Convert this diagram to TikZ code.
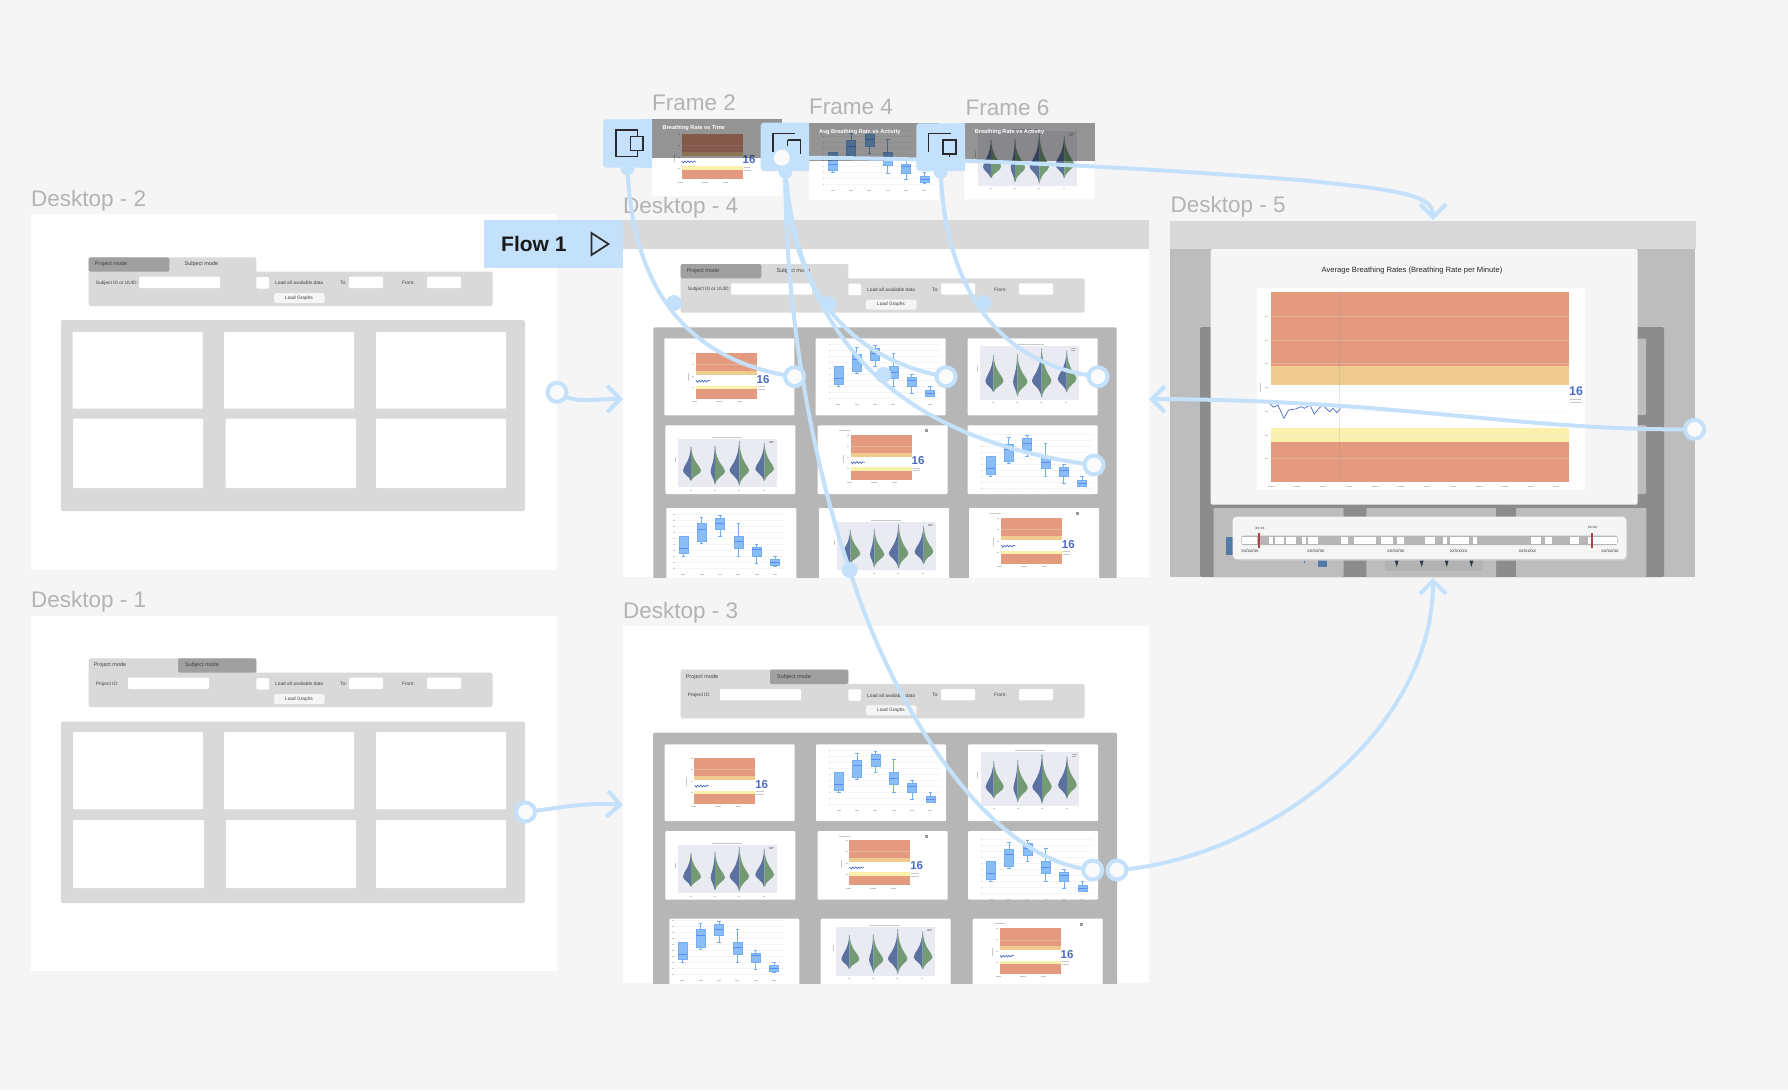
\documentclass[tikz,border=0pt]{standalone}
\usepackage{fontspec}
\setmainfont{Liberation Sans}
\usetikzlibrary{arrows.meta}
\definecolor{bgC}{HTML}{F5F5F5}
\definecolor{grC}{HTML}{D9D9D9}
\definecolor{panelC}{HTML}{B6B6B6}
\definecolor{tabC}{HTML}{A0A0A0}
\definecolor{linkC}{HTML}{C4E1FB}
\definecolor{orangeC}{HTML}{E39A7E}
\definecolor{amberC}{HTML}{F0CB90}
\definecolor{yellowC}{HTML}{FBF1AC}
\definecolor{waveC}{HTML}{4A6CC0}
\definecolor{boxC}{HTML}{8ABDF5}
\definecolor{boxlC}{HTML}{74AEF2}
\definecolor{vbgC}{HTML}{EAEAF2}
\definecolor{vblueC}{HTML}{5B72A0}
\definecolor{vgreenC}{HTML}{739A74}
\definecolor{lblC}{HTML}{B3B3B3}
\definecolor{inkC}{HTML}{2A2A2A}
\definecolor{redmC}{HTML}{B04444}
\tikzset{
  lbl/.style={anchor=west,inner sep=0pt,text=lblC,font=\fontsize{22.5}{26}\selectfont},
  tiny/.style={inner sep=0pt,text=black!75,font=\fontsize{4.8}{6}\selectfont},
  tabt/.style={inner sep=0pt,text=black!75,font=\fontsize{5.5}{6}\selectfont},
  card/.style={fill=white,rounded corners=1pt},
  input/.style={fill=white,rounded corners=1.2pt},
  link/.style={draw=linkC,line width=4pt},
  hook/.style={-{Straight Barb[length=13pt,width=26pt,line width=4pt]}},
  ring/.style={circle,draw=linkC,line width=4pt,fill=white!98!black,minimum size=19pt,inner sep=0pt},
  dot/.style={circle,fill=linkC,minimum size=16pt,inner sep=0pt},
  icon/.style={fill=linkC,rounded corners=3pt},
  glyph/.style={draw=inkC,line width=1.5pt},
  tick/.style={fill=black!22},
  ftitle/.style={inner sep=0pt,anchor=west,text=white,font=\bfseries\fontsize{5.6}{6}\selectfont},
}
% search / control bar: #1 #2 = offset, #3 = project or subject mode
\newcommand{\topBar}[3]{%
\begin{scope}[shift={(#1,#2)},name prefix=#3-]
 \fill[grC,rounded corners=2pt] (88.6,257.3) rectangle (256.4,280);
 \fill[grC,rounded corners=2pt] (88.6,271.7) rectangle (492.5,306);
 \ifnum#3=1
  \fill[tabC,rounded corners=1.5pt] (88.6,257.3) rectangle (169.3,271.7);
  \node[tabt] (pm) at (111,264.3) {Project mode};
  \node[tabt] (sm) at (201.4,264.3) {Subject mode};
  \node[tiny,anchor=west] (id) at (95.7,283) {Subject ID or UUID:};
  \fill[input] (139,276.7) rectangle (220,288);
 \else
  \fill[tabC,rounded corners=1.5pt] (178,257.3) rectangle (256.4,271.7);
  \node[tabt] (pm) at (110,264.3) {Project mode};
  \node[tabt] (sm) at (202,264.3) {Subject mode};
  \node[tiny,anchor=west] (id) at (95.7,283) {Project ID:};
  \fill[input] (128,276.7) rectangle (209,288);
 \fi
 \fill[input] (256.4,277) rectangle (269,288.5);
 \node[tiny,anchor=west] (la) at (275,283) {Load all available data};
 \node[tiny,anchor=west] (to) at (340,283) {To:};
 \fill[input] (349,276.7) rectangle (383,288);
 \node[tiny,anchor=west] (fr) at (402,283) {From:};
 \fill[input] (427,276.7) rectangle (461,288);
 \fill[bgC,rounded corners=1.5pt] (274,293) rectangle (324.6,303);
 \node[tiny] (lg) at (299,298) {Load Graphs};
\end{scope}}
\newcommand{\gaugeChart}[2]{%
\begin{scope}[shift={(#1,#2)}]
 \fill[orangeC] (29.7,14) rectangle (90.7,31.7);
 \fill[amberC] (29.7,31.7) rectangle (90.7,36);
 \fill[yellowC] (29.7,46.3) rectangle (90.7,49.7);
 \fill[orangeC] (29.7,49.7) rectangle (90.7,59.3);
 \draw[white,opacity=.25,line width=.4pt] (29.7,25.3) -- (90.7,25.3);
 \draw[waveC,line width=.7pt] (30,41) -- (31.5,43) -- (33,41) -- (34.5,42.5) -- (36,40.8) -- (37.5,42.7) -- (39,41) -- (40.5,42.5) -- (42,41) -- (44,41.5);
 \node[inner sep=0pt,text=waveC,font=\bfseries\fontsize{11.5}{12}\selectfont] at (97,40) {16};
 \fill[tick] (91.5,47) rectangle (99,47.6);
 \fill[tick] (91.5,49.5) rectangle (99,50.1);
 \fill[tick] (26,61.6) rectangle (31,62.2);
 \fill[tick] (50,61.6) rectangle (56,62.2);
 \fill[tick] (71,61.6) rectangle (76,62.2);
 \fill[tick] (26,14) rectangle (28,14.5);
 \fill[tick] (26,25) rectangle (28,25.5);
 \fill[tick] (26,36.5) rectangle (28,37);
 \fill[tick] (26,47.5) rectangle (28,48);
 \fill[tick] (21.5,34) rectangle (22.1,42);
\end{scope}}
\newcommand{\gaugeHead}[2]{%
\begin{scope}[shift={(#1,#2)}]
 \fill[tick] (21,4.5) rectangle (32,5.3);
 \fill[black!40] (107,4) rectangle (110,7);
\end{scope}}
% cx, whisker top, box top, median, box bottom, whisker bottom
\newcommand{\oneBox}[6]{%
 \draw[boxlC,line width=.5pt] (#1,#2) -- (#1,#6) (#1-1.8,#2) -- (#1+1.8,#2) (#1-1.8,#6) -- (#1+1.8,#6);
 \fill[boxC] (#1-4.5,#3) rectangle (#1+4.5,#5);
 \draw[boxlC,line width=.5pt] (#1-4.5,#3) rectangle (#1+4.5,#5);
 \draw[boxlC!80!blue,line width=.6pt] (#1-4.5,#4) -- (#1+4.5,#4);
 \fill[tick] (#1-2,65.5) rectangle (#1+2,66);}
\newcommand{\boxChart}[2]{%
\begin{scope}[shift={(#1,#2)}]
 \foreach \gy in {6,12,...,60} {
  \draw[black!4,line width=.3pt] (15,\gy) -- (124,\gy);
  \fill[tick] (12.8,\gy-.2) rectangle (14,\gy+.2);}
 \oneBox{22.7}{28}{28}{40}{45.7}{48}
 \oneBox{41}{9}{15.7}{21.3}{33}{35}
 \oneBox{59.3}{7}{10}{15}{21.7}{28.3}
 \oneBox{77.7}{15}{28}{33.7}{40.3}{48.3}
 \oneBox{96}{36}{39.3}{41.7}{48.3}{55}
 \oneBox{114.3}{48}{51.7}{54.7}{57.7}{58.3}
\end{scope}}
% cx peak wide base blue-half green-half
\newcommand{\oneViolin}[6]{%
 \fill[vblueC] (#1-.3,#2) .. controls (#1-.5,#3-10) and (#1-#5,#3-5) .. (#1-#5,#3) .. controls (#1-#5,#3+4) and (#1-1.6,#3+6) .. (#1-.3,#4) -- (#1,#4) -- (#1,#2) -- cycle;
 \fill[vgreenC] (#1+.3,#2) .. controls (#1+.5,#3-10) and (#1+#6,#3-5) .. (#1+#6,#3) .. controls (#1+#6,#3+4) and (#1+1.6,#3+6) .. (#1+.3,#4) -- (#1,#4) -- (#1,#2) -- cycle;}
\newcommand{\violinChart}[3]{%
\begin{scope}[shift={(#1+12.7,#2+7.7)},yscale=#3]
 \fill[vbgC] (0,0) rectangle (98.5,53.6);
 \oneViolin{13}{9}{35}{46}{8}{10}
 \oneViolin{37}{8}{36}{50}{4.3}{10}
 \oneViolin{61.3}{2.3}{35}{51.3}{9.7}{9.7}
 \oneViolin{86.3}{4.7}{33}{46.3}{9}{9.7}
 \fill[black!30] (91,2) rectangle (96,3);
 \fill[black!30] (91,3.7) rectangle (95,4.3);
 \fill[tick] (34,-2) rectangle (64,-1.5);
 \fill[tick] (12,56) rectangle (14,56.5);
 \fill[tick] (36,56) rectangle (38,56.5);
 \fill[tick] (60,56) rectangle (62,56.5);
 \fill[tick] (85,56) rectangle (87,56.5);
 \fill[tick] (-3.5,20) rectangle (-3,26);
\end{scope}}
\newcommand{\cardAt}[3]{\fill[card] (#1,#2) rectangle (#1+130,#2+#3);}
\begin{document}
\begin{tikzpicture}[x=1pt,y=-1pt]
\useasboundingbox (0,0) rectangle (1788,1090);
\fill[bgC] (0,0) rectangle (1788,1090);

% ---- labels
\node[lbl] (l2) at (31,200.5) {Desktop - 2};
\node[lbl] (l1) at (31,601.5) {Desktop - 1};
\node[lbl] (l4) at (623,207.5) {Desktop - 4};
\node[lbl] (l3) at (623,613) {Desktop - 3};
\node[lbl] (l5) at (1170.5,207) {Desktop - 5};
\node[lbl] (lf2) at (652,103) {Frame 2};
\node[lbl] (lf4) at (809,107) {Frame 4};
\node[lbl] (lf6) at (965.5,107.5) {Frame 6};

% ---- Desktop 2
\fill[white] (31,214) rectangle (557,570);
\topBar{0}{0}{1}
\fill[grC,rounded corners=2pt] (61,320) rectangle (525,511);
\fill[card] (72.5,332) rectangle (202.5,408.7);
\fill[card] (224,332) rectangle (354,408.7);
\fill[card] (376,332) rectangle (506,408.7);
\fill[card] (73,418.7) rectangle (203,488);
\fill[card] (225.7,418.7) rectangle (356,488);
\fill[card] (376,418.7) rectangle (506,488);

% ---- Desktop 1
\fill[white] (31,616) rectangle (557,971);
\topBar{0}{401}{2}
\fill[grC,rounded corners=2pt] (61,721.6) rectangle (525,903);
\fill[card] (73,732) rectangle (203,809.4);
\fill[card] (224,732) rectangle (354,809.4);
\fill[card] (376,732) rectangle (506,809.4);
\fill[card] (73,820) rectangle (204,888);
\fill[card] (226,820) rectangle (356,888);
\fill[card] (376,820) rectangle (506,888);

% ---- Desktop 3
\begin{scope}
\clip (623,626) rectangle (1149,983);
\fill[white] (623,626) rectangle (1149,983);
\topBar{592}{412.3}{2}
\fill[panelC,rounded corners=2pt] (653,732.7) rectangle (1117,1000);
\cardAt{664.7}{744.3}{76.7}
\cardAt{816}{744.3}{76.7}
\cardAt{968}{744.3}{76.7}
\cardAt{665.3}{831}{68.7}
\cardAt{817.7}{831}{68.7}
\cardAt{968}{831}{68.7}
\cardAt{669.3}{918.7}{80}
\cardAt{820.7}{918.7}{80}
\cardAt{972.7}{918.7}{80}
\gaugeChart{664.7}{744.3}
\boxChart{816}{744.3}
\violinChart{968}{744.3}{1}
\violinChart{665.3}{837}{.91}
\gaugeChart{819.7}{826}
\gaugeHead{817.7}{831}
\boxChart{968}{833.3}
\boxChart{659.6}{914}
\violinChart{823.7}{919.3}{.91}
\gaugeChart{970}{914.4}
\gaugeHead{972.7}{918.7}
\end{scope}

% ---- Desktop 4
\begin{scope}
\clip (623,220) rectangle (1149,577);
\fill[white] (623,220) rectangle (1149,577);
\fill[grC] (623,220) rectangle (1149,249);
\topBar{592}{6.7}{1}
\fill[panelC,rounded corners=2pt] (653.3,327.3) rectangle (1116.7,600);
\cardAt{664.3}{338.3}{77}
\cardAt{815.7}{338.3}{77}
\cardAt{967.7}{338.3}{77}
\cardAt{665.3}{425.3}{68.7}
\cardAt{817.7}{425.3}{68.7}
\cardAt{967.7}{425.3}{68.7}
\cardAt{666.3}{508}{80}
\cardAt{819}{508}{80}
\cardAt{969}{508}{80}
\gaugeChart{666}{339.3}
\boxChart{815.7}{338.3}
\violinChart{967.7}{338.3}{1}
\violinChart{665.3}{431}{.91}
\gaugeChart{821}{420.8}
\gaugeHead{817.7}{425.3}
\boxChart{967.7}{428.3}
\boxChart{660.6}{508}
\violinChart{824.6}{514}{.91}
\gaugeChart{971.3}{504.3}
\gaugeHead{969}{508}
\end{scope}

% ---- Desktop 5
\fill[black!26] (1170,221) rectangle (1695,577);
\fill[grC] (1170,221) rectangle (1696.4,249);
\fill[black!45,rounded corners=2pt] (1200,327) rectangle (1664,577);
\fill[black!26,rounded corners=1pt] (1500,338.7) rectangle (1646,415);
\fill[black!26,rounded corners=1pt] (1500,425) rectangle (1646,494);
\fill[black!26,rounded corners=1pt] (1213.6,508) rectangle (1343.6,577);
\fill[black!26,rounded corners=1pt] (1366.4,508) rectangle (1496,577);
\fill[black!26,rounded corners=1pt] (1516,508) rectangle (1646.4,577);
\fill[black!30] (1385,555) rectangle (1483,571);
\fill[vblueC!50!black] (1396.8,567) -- (1393,555) -- (1400,555) -- cycle;
\fill[vblueC!50!black] (1421.8,567) -- (1418,555) -- (1425,555) -- cycle;
\fill[vblueC!50!black] (1446.8,567) -- (1443,555) -- (1450,555) -- cycle;
\fill[vblueC!50!black] (1471.4,567) -- (1468,555) -- (1475,555) -- cycle;
\fill[boxlC!70!black] (1226,537) rectangle (1233,555);
\fill[boxlC!70!black] (1318,558) rectangle (1327,567);
\draw[boxlC!70!black,line width=.5pt] (1304,555) -- (1304,563);
% modal
\fill[bgC,rounded corners=2pt] (1210.7,249) rectangle (1637.5,504.7);
\node[inner sep=0pt,text=black!85,font=\fontsize{7.6}{9}\selectfont] (mt) at (1412,270.7) {Average Breathing Rates (Breathing Rate per Minute)};
\fill[white] (1257,288.3) rectangle (1585,490);
\fill[orangeC] (1271,292) rectangle (1568.6,366);
\fill[amberC] (1271,366) rectangle (1568.6,385);
\fill[yellowC] (1271,428) rectangle (1568.6,441.7);
\fill[orangeC] (1271,441.7) rectangle (1568.6,482.3);
\foreach \gy in {316.3,340,363.3,387.3,411.3,435,458.7} {
  \draw[white!80!gray,opacity=.3,line width=.5pt] (1271,\gy) -- (1568.6,\gy);
  \fill[tick] (1265,\gy-.4) rectangle (1268,\gy+.4);}
\draw[gray,opacity=.18,line width=.5pt] (1339.3,292) -- (1339.3,482);
\draw[waveC,line width=.7pt] (1270,404) -- (1273.6,407.3) -- (1277.9,405) -- (1283.9,418.3) -- (1288.6,410) -- (1295.7,409) -- (1301,406.7) -- (1304.6,408.3) -- (1310,405) -- (1314.3,414) -- (1319,408.3) -- (1322.5,405) -- (1329.6,411.7) -- (1333.2,408.3) -- (1336.8,412.7) -- (1340.4,408.3);
\node[inner sep=0pt,text=waveC,font=\bfseries\fontsize{12.5}{13}\selectfont] (m16) at (1576,391.5) {16};
\fill[tick] (1570,399) rectangle (1581,399.6);
\fill[tick] (1570,402) rectangle (1582,402.6);
\foreach \gx in {1271,1297,1323,1349,1375,1401,1427,1453,1479,1505,1531,1556}
  \fill[tick] (\gx-3,485.5) rectangle (\gx+3,486.2);
\fill[tick] (1260,383) rectangle (1260.7,392);
% timeline
\fill[black!20,rounded corners=4pt] (1233.5,518) rectangle (1627.4,560.5);
\fill[bgC,rounded corners=4pt] (1232.5,516.7) rectangle (1626.4,559);
\fill[panelC,rounded corners=2pt] (1241.4,535.7) rectangle (1617.5,545);
\foreach \ta/\tb in {230/272,305/316,322/348,353/382,397/410,415/442,508/526,544/605,620/652,663/682,743/771,792/803,813/865,876/888,1039/1067,1078/1097,1147/1174,1197/1280}
  \fill[white] ({1160+\ta/2.8},536.6) rectangle ({1160+\tb/2.8},544.1);
\fill[redmC] (1258.3,532.5) rectangle (1260.3,547.5);
\fill[redmC] (1590.8,532.5) rectangle (1592.8,547.5);
\node[tiny,font=\fontsize{4}{5}\selectfont] (ta) at (1260,528.5) {xx:xx};
\node[tiny,font=\fontsize{4}{5}\selectfont] (tb) at (1592.5,527.5) {xx:xx};
\node[tiny] (d1) at (1250,550.3) {xx/xx/xx};
\node[tiny] (d2) at (1316,550.3) {xx/xx/xx};
\node[tiny] (d3) at (1396,551) {xx/xx/xx};
\node[tiny] (d4) at (1458.6,550.3) {xx/xx/xx};
\node[tiny] (d5) at (1527.5,550.3) {xx/xx/xx};
\node[tiny] (d6) at (1610,550.3) {xx/xx/xx};

% ---- Frame thumbnails
\fill[white,rounded corners=1pt] (652,119.3) rectangle (782,196);
\gaugeChart{652}{120}
\fill[black,opacity=.42] (652,119.3) rectangle (782,157.7);
\node[ftitle] (ft2) at (662.5,128) {Breathing Rate vs Time};
\fill[white,rounded corners=1pt] (808.6,122.7) rectangle (939,200);
\boxChart{810}{124.5}
\fill[black,opacity=.42] (808.6,122.7) rectangle (939,161);
\node[ftitle] (ft4) at (819,132) {Avg Breathing Rate vs Activity};
\fill[white,rounded corners=1pt] (964.3,122.7) rectangle (1094.6,199.3);
\violinChart{965.3}{123.3}{1.02}
\fill[black,opacity=.42] (964.3,122.7) rectangle (1094.6,161);
\node[ftitle] (ft6) at (974.6,132) {Breathing Rate vs Activity};

% ---- Flow label
\fill[linkC] (484,220) rectangle (623,267.7);
\node[inner sep=0pt,anchor=west,text=black!90,font=\bfseries\fontsize{21}{24}\selectfont] (flow) at (501,243.7) {Flow 1};
\draw[inkC,line width=1.7pt,line join=miter] (591.5,233) -- (608.5,244) -- (591.5,255) -- cycle;

% ---- Icons
\fill[icon] (603,119.3) rectangle (652,167.7);
\fill[linkC] (640,119.3) rectangle (652,167.7);
\draw[glyph] (616,130) rectangle (637.5,156.7);
\draw[glyph,fill=linkC] (630.4,136.7) rectangle (642.9,150.7);
\fill[icon] (760.7,122.7) rectangle (809,171);
\fill[linkC] (800,122.7) rectangle (809,171);
\draw[glyph] (773.2,152) -- (773.2,133.3) -- (795.3,133.3);
\draw[glyph] (787.5,140) -- (800.7,140) -- (800.7,154) (787.5,140) -- (787.5,146);
\fill[icon] (916.4,123.3) rectangle (965,171);
\fill[linkC] (955,123.3) rectangle (965,171);
\draw[glyph] (928.6,152) -- (928.6,133.3) -- (950.7,133.3);
\draw[glyph,fill=linkC] (943,140) rectangle (956.1,154);
\draw[glyph] (949.5,154) -- (949.5,157);

% ---- Connector anchors
\coordinate (a2) at (557,392.3);
\coordinate (a1) at (525.5,812);
\coordinate (t4) at (623,399);
\coordinate (t3) at (623,805);
\coordinate (a5) at (1694.6,429.3);
\coordinate (t4r) at (1149,399);
\coordinate (a3) at (1117,870);
\coordinate (t5b) at (1433,578);
\coordinate (t5t) at (1433,220);
\coordinate (i1) at (627.5,168.3);
\coordinate (i2) at (785.4,171.7);
\coordinate (i3) at (940.7,171.7);
\coordinate (p2) at (781.8,157.7);
\coordinate (c1) at (794.6,376.7);
\coordinate (c2) at (946,376.7);
\coordinate (c3) at (1098,376.7);
\coordinate (c6) at (1094,465);
\coordinate (c9) at (1092.7,870);
\coordinate (m9) at (849.7,570);

% ---- Connectors
\draw[link,hook] (a2) .. controls (575,404) and (590,399) .. (t4);
\draw[link,hook] (a1) .. controls (560,808) and (585,802) .. (t3);
\draw[link,hook] (a5) .. controls (1520,431) and (1400,400) .. (t4r);
\draw[link,hook] (a3) .. controls (1260,860) and (1433,735) .. (t5b);
\draw[link,hook] (p2) .. controls (950,158) and (1100,165) .. (1300,180) .. controls (1400,190) and (1433,195) .. (t5t);
\draw[link] (i1) .. controls (632,280) and (680,360) .. (c1);
\draw[link] (i2) .. controls (785,320) and (815,470) .. (m9) .. controls (890,700) and (985,860) .. (c9);
\draw[link] (i2) .. controls (790,290) and (850,360) .. (c2);
\draw[link] (i2) .. controls (800,340) and (900,440) .. (c6);
\draw[link] (i3) .. controls (945,290) and (1000,365) .. (c3);

% ---- Connector end marks
\node[dot,minimum size=14pt] (b1) at (i1) {};
\node[dot,minimum size=14pt] (b2) at (i2) {};
\node[dot,minimum size=14pt] (b3) at (i3) {};
\node[dot] (s1) at (674,303) {};
\node[dot] (s2) at (828.6,304) {};
\node[dot] (s3) at (983,303) {};
\node[dot] (s4) at (883.3,375) {};
\node[dot] (s5) at (m9) {};
\node[ring] (r2) at (a2) {};
\node[ring] (r1) at (a1) {};
\node[ring] (r5) at (a5) {};
\node[ring] (r3) at (a3) {};
\node[ring,draw=none,fill=white!98!black,minimum size=16pt] (rp) at (p2) {};
\node[ring] (rc1) at (c1) {};
\node[ring] (rc2) at (c2) {};
\node[ring] (rc3) at (c3) {};
\node[ring] (rc6) at (c6) {};
\node[ring] (rc9) at (c9) {};
\end{tikzpicture}
\end{document}
